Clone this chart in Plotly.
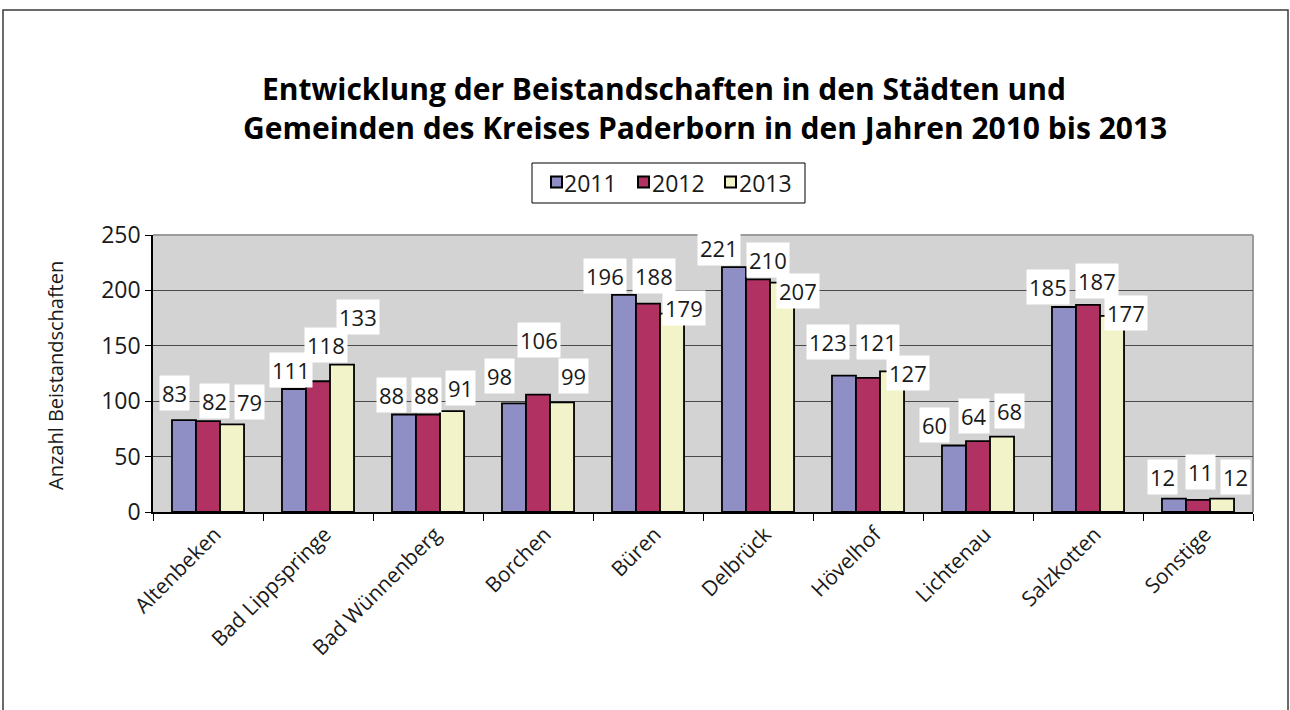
import plotly.graph_objects as go

# --- data -------------------------------------------------------------
categories = ["Altenbeken", "Bad Lippspringe", "Bad Wünnenberg", "Borchen", "Büren",
              "Delbrück", "Hövelhof", "Lichtenau", "Salzkotten", "Sonstige"]
years = ["2011", "2012", "2013"]
values_2011 = [83, 111, 88, 98, 196, 221, 123, 60, 185, 12]
values_2012 = [82, 118, 88, 106, 188, 210, 121, 64, 187, 11]
values_2013 = [79, 133, 91, 99, 179, 207, 127, 68, 177, 12]
y_ticks = [0, 50, 100, 150, 200, 250]

# --- styling ----------------------------------------------------------
colors = ["#8F8FC6", "#B23163", "#F3F3C9"]
FONT = "Open Sans"
TEXT = "#1a1a1a"
BARGAP = 0.345
L, R, T, B = 153, 37, 235, 198          # margins (px)
W, H = 1290, 710
PW, PH = W - L - R, H - T - B           # plot area size (px)

# label placement relative to the top of each bar (pixels)
label_dx = {
    "2011": [-9, -3, -12, -14, -19, -15, -16, -19, -16, -11],
    "2012": [6, 8, -2, 1, 6, 10, 10, -4, 9, 2],
    "2013": [17, 16, 8, 11, 12, 16, 16, 7, 14, 13],
}
label_dy = {
    "2011": [27, 19, 20, 27, 19, 19, 34, 21, 20, 22],
    "2012": [20, 36, 20, 55, 28, 19, 36, 25, 24, 28],
    "2013": [22, 48, 23, 26, 6, -8, -2, 26, 3, 22],
}

# legend box layout (pixels): box edges, marker left edges, text left edges
LEG_BOX = (532, 805, 163, 203)
LEG_MARK_X = [551, 638, 725]
LEG_TEXT_X = [562, 650, 737]
LEG_MID_Y = 182
LEG_MARK = 11


def px_x(p):
    return (p - L) / PW


def px_y(p):
    return (H - B - p) / PH


series = [values_2011, values_2012, values_2013]

fig = go.Figure()
for yr, vals, col in zip(years, series, colors):
    fig.add_trace(go.Bar(
        x=categories, y=vals, name=yr,
        marker=dict(color=col, line=dict(color="#000000", width=1.8)),
    ))

# value labels in white boxes above the bars
bar_w = (1 - BARGAP) / len(years)
annotations = []
for k, (yr, vals) in enumerate(zip(years, series)):
    for i, v in enumerate(vals):
        annotations.append(dict(
            x=i + (k - 1) * bar_w, y=v, xref="x", yref="y",
            text=str(v), showarrow=False,
            xshift=label_dx[yr][i], yshift=label_dy[yr][i],
            xanchor="center", yanchor="middle",
            bgcolor="#FFFFFF", borderpad=2,
            font=dict(family=FONT, size=22, color=TEXT),
        ))

# two-line title
annotations.append(dict(
    x=px_x(664), y=px_y(88), xref="paper", yref="paper", showarrow=False,
    text="<b>Entwicklung der Beistandschaften in den Städten und</b>",
    xanchor="center", yanchor="middle",
    font=dict(family=FONT, size=30, color="#000000"),
))
annotations.append(dict(
    x=px_x(705), y=px_y(127), xref="paper", yref="paper", showarrow=False,
    text="<b>Gemeinden des Kreises Paderborn in den Jahren 2010 bis 2013</b>",
    xanchor="center", yanchor="middle",
    font=dict(family=FONT, size=30, color="#000000"),
))
# y-axis title
annotations.append(dict(
    x=px_x(56), y=0.491, xref="paper", yref="paper", showarrow=False,
    text="Anzahl Beistandschaften", textangle=-90,
    xanchor="center", yanchor="middle",
    font=dict(family=FONT, size=20, color=TEXT),
))

shapes = [
    # outer chart frame
    dict(type="rect", xref="paper", yref="paper",
         x0=px_x(3), x1=px_x(1288), y0=px_y(730), y1=px_y(10),
         line=dict(color="#3a3a3a", width=1.5), layer="below"),
    # top and right edges of the plot area
    dict(type="line", xref="paper", yref="paper", x0=0, x1=1, y0=1, y1=1,
         line=dict(color="#9C9C9C", width=2), layer="above"),
    dict(type="line", xref="paper", yref="paper", x0=1, x1=1, y0=0, y1=1,
         line=dict(color="#9C9C9C", width=2), layer="below"),
    # legend frame
    dict(type="rect", xref="paper", yref="paper",
         x0=px_x(LEG_BOX[0]), x1=px_x(LEG_BOX[1]),
         y0=px_y(LEG_BOX[3]), y1=px_y(LEG_BOX[2]),
         line=dict(color="#000000", width=1), fillcolor="#FFFFFF", layer="below"),
]

# legend entries: coloured square + year
for yr, col, mx, tx in zip(years, colors, LEG_MARK_X, LEG_TEXT_X):
    shapes.append(dict(
        type="rect", xref="paper", yref="paper",
        x0=px_x(mx), x1=px_x(mx + LEG_MARK),
        y0=px_y(LEG_MID_Y + LEG_MARK / 2), y1=px_y(LEG_MID_Y - LEG_MARK / 2),
        line=dict(color="#000000", width=2), fillcolor=col, layer="above",
    ))
    annotations.append(dict(
        x=px_x(tx), y=px_y(LEG_MID_Y + 1), xref="paper", yref="paper",
        text=yr, showarrow=False, xanchor="left", yanchor="middle",
        font=dict(family=FONT, size=23, color=TEXT),
    ))

fig.update_layout(
    width=W, height=H,
    margin=dict(l=L, r=R, t=T, b=B, pad=0),
    paper_bgcolor="#FFFFFF", plot_bgcolor="#D3D3D3",
    barmode="group", bargap=BARGAP, bargroupgap=0,
    font=dict(family=FONT, color=TEXT),
    showlegend=False,
    annotations=annotations,
    shapes=shapes,
)

fig.update_xaxes(
    type="category", showline=True, linecolor="#000000", linewidth=1.5,
    ticks="outside", tickson="boundaries", ticklen=7, tickcolor="#000000",
    tickwidth=1.2, tickangle=-45, showgrid=False, ticklabelshift=7,
    tickfont=dict(family=FONT, size=21, color=TEXT),
)
fig.update_yaxes(
    range=[0, 250], tickvals=y_ticks, showline=True, linecolor="#000000",
    linewidth=1.5, ticks="outside", ticklen=6, tickcolor="#000000", tickwidth=1.2,
    showgrid=True, gridcolor="#4A4A4A", gridwidth=1, zeroline=False,
    tickfont=dict(family=FONT, size=23, color=TEXT),
)

fig.write_html("out.html")
